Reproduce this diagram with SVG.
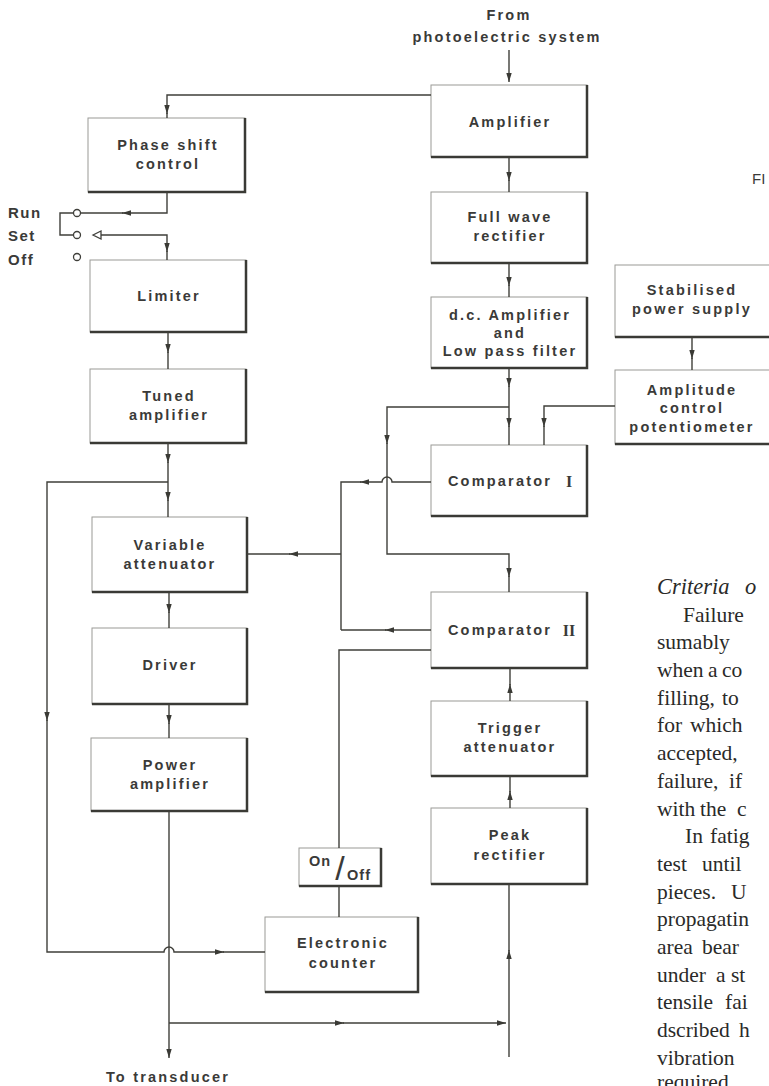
<svg xmlns="http://www.w3.org/2000/svg" width="769" height="1086" viewBox="0 0 769 1086">
<style>
.node rect{fill:#fff;stroke:#9a9a96;stroke-width:1}
.node .sh{fill:none;stroke:#3a3a35;stroke-width:2.5}
.node text,.lbl{font-family:"Liberation Sans",Arial,sans-serif;font-weight:bold;font-size:14.5px;letter-spacing:2.2px;fill:#3a3a38;text-anchor:middle}
.node text.rn{font-family:"Liberation Serif","Times New Roman",serif;font-size:16px;letter-spacing:0}
.node text.sl{font-size:34px;font-weight:normal;letter-spacing:0}
.c path,.c line{fill:none;stroke:#3f3f3a;stroke-width:1.4}
.c .a{marker-end:url(#ah)}
.par{font-family:"Liberation Serif","Times New Roman",serif;font-size:21.5px;fill:#2a2a28}
.sw{font-family:"Liberation Sans",Arial,sans-serif;font-weight:bold;font-size:15px;letter-spacing:1.5px;fill:#3a3a38}
</style>
<defs>
<marker id="ah" viewBox="0 0 10 6" refX="10" refY="3" markerWidth="9" markerHeight="5.5" markerUnits="userSpaceOnUse" orient="auto">
<path d="M0,0 L10,3 L0,6 z" fill="#3a3a35"/>
</marker>
</defs>
<rect width="769" height="1086" fill="#fff"/>

<text class="lbl" x="509" y="20">From</text>
<text class="lbl" x="507" y="42">photoelectric system</text>
<text x="752" y="184" font-family="Liberation Sans,Arial,sans-serif" font-size="15" fill="#3a3a38">FI</text>

<g id="phase_shift" class="node"><rect x="88" y="118" width="157" height="74"/><path class="sh" d="M245,118 V192 H88"/><text x="168" y="150">Phase shift</text><text x="168" y="169">control</text></g>
<g id="limiter" class="node"><rect x="90" y="260" width="156" height="72"/><path class="sh" d="M246,260 V332 H90"/><text x="169" y="301">Limiter</text></g>
<g id="tuned_amplifier" class="node"><rect x="90" y="369" width="156" height="74"/><path class="sh" d="M246,369 V443 H90"/><text x="169" y="401">Tuned</text><text x="169" y="420">amplifier</text></g>
<g id="variable_attenuator" class="node"><rect x="92" y="517" width="155" height="75"/><path class="sh" d="M247,517 V592 H92"/><text x="170" y="550">Variable</text><text x="170" y="569">attenuator</text></g>
<g id="driver" class="node"><rect x="92" y="628" width="155" height="76"/><path class="sh" d="M247,628 V704 H92"/><text x="170" y="670">Driver</text></g>
<g id="power_amplifier" class="node"><rect x="91" y="738" width="156" height="73"/><path class="sh" d="M247,738 V811 H91"/><text x="170" y="770">Power</text><text x="170" y="789">amplifier</text></g>

<g id="amplifier" class="node"><rect x="431" y="85" width="156" height="72"/><path class="sh" d="M587,85 V157 H431"/><text x="510" y="127">Amplifier</text></g>
<g id="full_wave_rectifier" class="node"><rect x="431" y="192" width="156" height="71"/><path class="sh" d="M587,192 V263 H431"/><text x="510" y="222">Full wave</text><text x="510" y="241">rectifier</text></g>
<g id="dc_amplifier" class="node"><rect x="431" y="297" width="156" height="71"/><path class="sh" d="M587,297 V368 H431"/><text x="510" y="320">d.c. Amplifier</text><text x="510" y="338">and</text><text x="510" y="356">Low pass filter</text></g>
<g id="comparator_1" class="node"><rect x="431" y="445" width="156" height="71"/><path class="sh" d="M587,445 V516 H431"/><text x="500" y="486">Comparator</text><text class="rn" x="569" y="487">I</text></g>
<g id="comparator_2" class="node"><rect x="431" y="592" width="156" height="76"/><path class="sh" d="M587,592 V668 H431"/><text x="500" y="635">Comparator</text><text class="rn" x="569" y="636">II</text></g>
<g id="trigger_attenuator" class="node"><rect x="431" y="701" width="156" height="75"/><path class="sh" d="M587,701 V776 H431"/><text x="510" y="733">Trigger</text><text x="510" y="752">attenuator</text></g>
<g id="peak_rectifier" class="node"><rect x="431" y="808" width="156" height="76"/><path class="sh" d="M587,808 V884 H431"/><text x="510" y="840">Peak</text><text x="510" y="860">rectifier</text></g>
<g id="electronic_counter" class="node"><rect x="265" y="917" width="153" height="75"/><path class="sh" d="M418,917 V992 H265"/><text x="343" y="948">Electronic</text><text x="343" y="968">counter</text></g>
<g id="on_off" class="node"><rect x="299" y="848" width="82" height="38"/><path class="sh" d="M381,848 V886 H299"/><text x="320" y="866" style="letter-spacing:1px">On</text><text class="sl" x="340" y="880">/</text><text x="359" y="880" style="letter-spacing:1px">Off</text></g>
<g id="stabilised_power_supply" class="node"><rect x="615" y="265" width="156" height="72"/><path class="sh" d="M771,265 V337 H615"/><text x="692" y="295">Stabilised</text><text x="692" y="314">power supply</text></g>
<g id="amplitude_control" class="node"><rect x="615" y="370" width="156" height="74"/><path class="sh" d="M771,370 V444 H615"/><text x="692" y="395">Amplitude</text><text x="692" y="413">control</text><text x="692" y="432">potentiometer</text></g>

<g id="switch">
<text class="sw" x="8" y="218">Run</text>
<text class="sw" x="8" y="241">Set</text>
<text class="sw" x="8" y="265">Off</text>
<g fill="#fff" stroke="#3f3f3a" stroke-width="1.3">
<circle cx="77" cy="213" r="3.5"/>
<circle cx="77" cy="235" r="3.5"/>
<circle cx="77" cy="257" r="3.5"/>
<path d="M93,235 L101,231 L101,239 Z"/>
</g>
</g>

<g id="connectors" class="c">
<path class="a" d="M509,50 V82"/>
<path class="a" d="M431,95 H167 V114"/><path d="M167,113 V118"/>
<path class="a" d="M509,157 V181"/><path d="M509,180 V192"/>
<path class="a" d="M509,263 V286"/><path d="M509,285 V297"/>
<path class="a" d="M509,368 V387"/><path class="a" d="M509,386 V427"/><path d="M509,426 V445"/>
<path class="a" d="M509,407 H387 V444"/><path class="a" d="M387,443 V554 H509 V577"/><path d="M509,576 V592"/>
<path class="a" d="M615,406 H544 V427"/><path d="M544,426 V445"/>
<path class="a" d="M431,482 H392 A5,5 0 0 0 382,482 H360"/><path d="M361,482 H341 V630"/>
<path class="a" d="M431,630 H385"/><path d="M386,630 H341"/>
<path class="a" d="M341,554 H289"/><path d="M290,554 H247"/>
<path d="M431,650 H339 V848"/>
<path d="M339,886 V917"/>
<path class="a" d="M510,701 V684"/><path d="M510,685 V668"/>
<path class="a" d="M510,808 V791"/><path d="M510,792 V776"/>
<path class="a" d="M509,1057 V950"/><path d="M509,951 V884"/>
<path class="a" d="M692,337 V359"/><path d="M692,358 V370"/>
<path class="a" d="M167,192 V213 H122"/><path d="M123,213 H81"/>
<path d="M73,213 H60 V235 H73"/>
<path class="a" d="M101,235 H167 V252"/><path d="M167,251 V260"/>
<path class="a" d="M168,332 V353"/><path d="M168,352 V369"/>
<path class="a" d="M168,443 V463"/><path class="a" d="M168,462 V501"/><path d="M168,500 V517"/>
<path class="a" d="M168,482 H47 V721"/><path class="a" d="M47,720 V952 H164 A5,5 0 0 1 174,952 H224"/><path d="M223,952 H265"/>
<path class="a" d="M169,592 V613"/><path d="M169,612 V628"/>
<path class="a" d="M169,704 V724"/><path d="M169,723 V738"/>
<path class="a" d="M169,811 V1058"/>
<path class="a" d="M169,1023 H344"/><path class="a" d="M343,1023 H506"/>
</g>

<text class="lbl" x="168" y="1082">To transducer</text>

<g id="article_text" class="par">
<text x="657" y="594" font-style="italic" font-size="22.5">Criteria<tspan x="745">o</tspan></text>
<text x="683" y="622">Failure</text>
<text x="657" y="649">sumably</text>
<text x="657" y="677">when<tspan x="708">a</tspan><tspan x="722">co</tspan></text>
<text x="657" y="705">filling,<tspan x="722">to</tspan></text>
<text x="657" y="732">for<tspan x="690">which</tspan></text>
<text x="657" y="760">accepted,</text>
<text x="657" y="788">failure,<tspan x="729">if</tspan></text>
<text x="657" y="816">with<tspan x="700">the</tspan><tspan x="737">c</tspan></text>
<text x="685" y="843">In<tspan x="710">fatig</tspan></text>
<text x="657" y="871">test<tspan x="702">until</tspan></text>
<text x="657" y="899">pieces.<tspan x="731">U</tspan></text>
<text x="657" y="926">propagatin</text>
<text x="657" y="954">area<tspan x="702">bear</tspan></text>
<text x="657" y="982">under<tspan x="716">a</tspan><tspan x="731">st</tspan></text>
<text x="657" y="1009">tensile<tspan x="725">fai</tspan></text>
<text x="657" y="1037">dscribed<tspan x="739">h</tspan></text>
<text x="657" y="1065">vibration</text>
<text x="657" y="1089">required</text>
</g>
</svg>
